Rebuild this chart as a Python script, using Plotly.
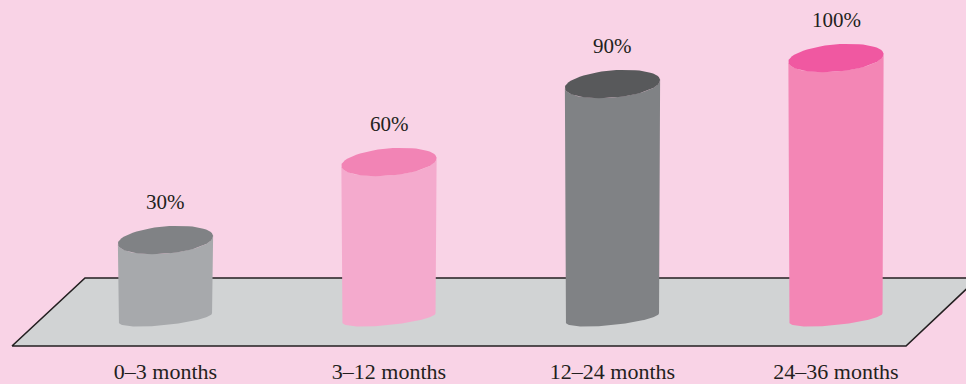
import math
import plotly.graph_objects as go

# Share of children by age band
categories = ["0–3 months", "3–12 months", "12–24 months", "24–36 months"]
values = [30, 60, 90, 100]
value_labels = ["30%", "60%", "90%", "100%"]

body_colors = ["#a7a9ac", "#f4aacd", "#808285", "#f386b5"]
cap_colors = ["#808285", "#f284b5", "#58595b", "#f058a1"]

BACKGROUND = "#f9d3e6"
FLOOR = "#d1d3d4"
INK = "#231f20"
FONT = "Liberation Serif"

WIDTH, HEIGHT, BOTTOM = 966, 384, 30

# Pixel scale of the axes: one category step, one percentage point
X_STEP, X_FIRST = 223.5, 165.5
Y_UNIT, Y_ZERO = 2.6, 318.0
PLOT_H = HEIGHT - BOTTOM
x_range = [-X_FIRST / X_STEP, (WIDTH - X_FIRST) / X_STEP]
y_range = [(Y_ZERO - PLOT_H) / Y_UNIT, Y_ZERO / Y_UNIT]


def ellipse(center_x, value, rx, ry, tilt_deg, start, stop, n=60):
    """Tilted ellipse arc around (category, value); radii are in screen pixels."""
    tilt = math.radians(tilt_deg)
    xs, ys = [], []
    for k in range(n + 1):
        t = math.radians(start + (stop - start) * k / n)
        dx = rx * math.cos(t) * math.cos(tilt) - ry * math.sin(t) * math.sin(tilt)
        dy = rx * math.cos(t) * math.sin(tilt) + ry * math.sin(t) * math.cos(tilt)
        xs.append(center_x + dx / X_STEP)
        ys.append(value + dy / Y_UNIT)
    return xs, ys


def filled(xs, ys, color):
    return go.Scatter(
        x=xs, y=ys, mode="lines", fill="toself", fillcolor=color,
        line=dict(width=0, color=color), hoverinfo="skip", showlegend=False,
    )


fig = go.Figure()

# Floor slab as a parallelogram, edges running off the right side
floor_x = [(p - X_FIRST) / X_STEP for p in (12, 85, 978, 906, 12)]
floor_y = [(Y_ZERO - p) / Y_UNIT for p in (346, 278, 278, 346, 346)]
fig.add_trace(go.Scatter(
    x=floor_x, y=floor_y, mode="lines", fill="toself", fillcolor=FLOOR,
    line=dict(width=1.6, color=INK), hoverinfo="skip", showlegend=False,
))

# One cylinder per category: body first, cap on top
for i, v in enumerate(values):
    top_x, top_y = ellipse(i, v, 47.8, 13.6, 5, 180, 360)
    base_x, base_y = ellipse(i, 0, 46.8, 7.0, 6, 0, -180)
    fig.add_trace(filled(top_x + base_x + top_x[:1], top_y + base_y + top_y[:1], body_colors[i]))
    cap_x, cap_y = ellipse(i, v, 47.8, 13.6, 5, 0, 360)
    fig.add_trace(filled(cap_x, cap_y, cap_colors[i]))

annotations = [
    dict(x=i, y=v, text=value_labels[i], showarrow=False, yshift=38,
         xanchor="center", yanchor="middle", font=dict(family=FONT, size=21, color=INK))
    for i, v in enumerate(values)
]

fig.update_layout(
    width=WIDTH, height=HEIGHT,
    margin=dict(l=0, r=0, t=0, b=BOTTOM, autoexpand=False),
    paper_bgcolor=BACKGROUND, plot_bgcolor=BACKGROUND,
    showlegend=False, annotations=annotations,
    xaxis=dict(
        range=x_range, tickmode="array", tickvals=list(range(len(categories))),
        ticktext=categories, showgrid=False, zeroline=False, showline=False,
        ticks="", ticklabelstandoff=2, automargin=False,
        tickfont=dict(family=FONT, size=22, color=INK),
    ),
    yaxis=dict(range=y_range, visible=False),
)

fig.write_html("out.html", config=dict(displayModeBar=False))
